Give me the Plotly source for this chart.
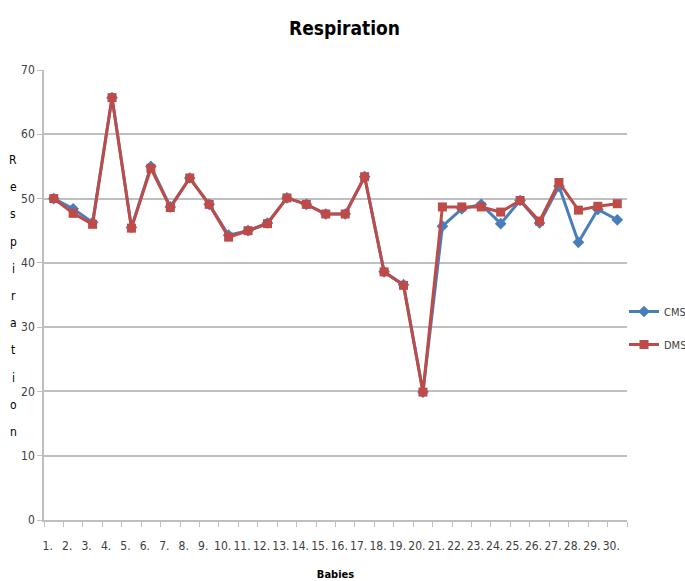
import plotly.graph_objects as go

# Babies on the category axis
babies = [f"{i}." for i in range(1, 31)]

# Respiration readings
cms = [50.0, 48.4, 46.3, 65.7, 45.5, 55.0, 48.7, 53.2, 49.1, 44.3,
       45.0, 46.2, 50.1, 49.1, 47.6, 47.6, 53.4, 38.6, 36.6, 19.9,
       45.7, 48.4, 49.1, 46.1, 49.7, 46.2, 51.9, 43.2, 48.3, 46.7]
dms = [50.0, 47.7, 46.0, 65.7, 45.4, 54.7, 48.6, 53.2, 49.1, 44.0,
       45.0, 46.1, 50.1, 49.1, 47.6, 47.6, 53.4, 38.6, 36.5, 19.9,
       48.7, 48.7, 48.7, 47.9, 49.7, 46.5, 52.5, 48.2, 48.8, 49.2]

y_ticks = [0, 10, 20, 30, 40, 50, 60, 70]
y_title = "Respiration"

FONT = "DejaVu Sans Condensed, Liberation Sans Narrow, Liberation Sans, sans-serif"
BLUE = "#4A7EBB"
RED = "#BE4B48"

fig = go.Figure()
fig.add_trace(go.Scatter(
    x=babies, y=cms, name="CMS", mode="lines+markers", legendgroup="c",
    line=dict(color=BLUE, width=3),
    marker=dict(symbol="diamond", size=9, color=BLUE),
))
fig.add_trace(go.Scatter(
    x=babies, y=dms, name="DMS", mode="lines+markers", legendgroup="d",
    line=dict(color=RED, width=3),
    marker=dict(symbol="square", size=9, color=RED),
))

L, R, T, B = 44, 58, 70, 61
W, H = 685, 581
plot_h = H - T - B

# vertical letter-by-letter axis title
annotations = []
top_px, step = 160, 27.2
for k, ch in enumerate(y_title):
    py = top_px + k * step
    annotations.append(dict(
        text=ch, xref="paper", yref="paper",
        x=(13 - L) / (W - L - R), y=(H - B - py) / plot_h,
        showarrow=False, xanchor="center", yanchor="middle",
        font=dict(family=FONT, size=12, color="#000000"),
    ))

fig.update_layout(
    width=W, height=H,
    margin=dict(l=L, r=R, t=T, b=B, autoexpand=False),
    paper_bgcolor="white", plot_bgcolor="white",
    title=dict(text="<b>Respiration</b>", x=0.503, xanchor="center",
               y=1 - 28 / H, yanchor="middle",
               font=dict(family=FONT, size=19, color="#000000")),
    font=dict(family=FONT, size=11, color="#404040"),
    showlegend=True,
    legend=dict(xref="container", x=624 / W, xanchor="left",
                yref="container", y=1 - 297 / H, yanchor="top",
                tracegroupgap=14, bgcolor="rgba(0,0,0,0)",
                font=dict(family=FONT, size=11, color="#404040")),
    annotations=annotations,
)

fig.update_xaxes(
    type="category", categoryorder="array", categoryarray=babies,
    range=[-0.5, len(babies) - 0.5],
    tickson="boundaries", ticks="outside", ticklen=5, tickcolor="#BFBFBF",
    showline=True, linecolor="#BFBFBF", linewidth=1.5,
    showgrid=False, ticklabelshift=-6, tickangle=0, ticklabelstandoff=14,
    tickfont=dict(family=FONT, size=12, color="#404040"),
    title=dict(text="<b>Babies</b>", standoff=18,
               font=dict(family=FONT, size=11, color="#000000")),
)
fig.update_yaxes(
    range=[0, 70], tickvals=y_ticks, ticks="outside", ticklen=5,
    tickcolor="#BFBFBF", showline=True, linecolor="#BFBFBF", linewidth=1.5,
    showgrid=True, gridcolor="#BFBFBF", gridwidth=1.5, zeroline=False,
    tickfont=dict(family=FONT, size=12, color="#404040"),
)

fig.write_html("out.html")
